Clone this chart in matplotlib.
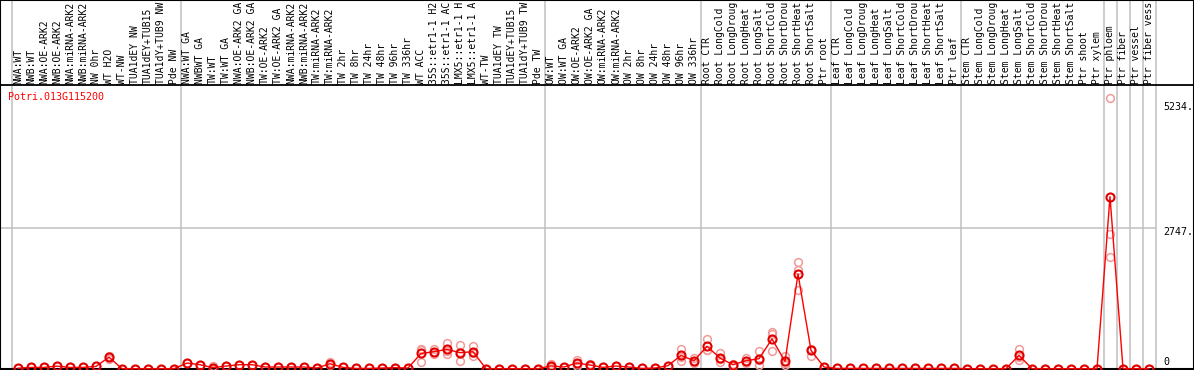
import numpy as np
import matplotlib.pyplot as plt

gene = "Potri.013G115200"

# sample names as far as they are readable in the header
samples = ["NWA:WT", "NWB:WT", "NWA:OE-ARK2", "NWB:OE-ARK2", "NWA:miRNA-ARK2",
           "NWB:miRNA-ARK2", "NW 0hr", "WT H2O", "WT-NW", "TUA1dEY NW",
           "TUA1dEY+TUB15", "TUA1dY+TUB9 NW", "Pde NW",
           "NWA:WT GA", "NWBWT GA", "TW:WT", "TW:WT GA", "NWA:OE-ARK2 GA",
           "NWB:OE-ARK2 GA", "TW:OE-ARK2", "TW:OE-ARK2 GA", "NWA:miRNA-ARK2",
           "NWB:miRNA-ARK2", "TW:miRNA-ARK2", "TW:miRNA-ARK2", "TW 2hr", "TW 8hr",
           "TW 24hr", "TW 48hr", "TW 96hr", "TW 336hr", "WT ACC",
           "35S::etr1-1 H2", "35S::etr1-1 AC", "LMX5::etr1-1 H",
           "LMX5::etr1-1 A", "WT-TW", "TUA1dEY TW", "TUA1dEY+TUB15",
           "TUA1dY+TUB9 TW", "Pde TW",
           "OW:WT", "OW:WT GA", "OW:OE-ARK2", "OW:OE-ARK2 GA", "OW:miRNA-ARK2",
           "OW:miRNA-ARK2", "OW 2hr", "OW 8hr", "OW 24hr", "OW 48hr", "OW 96hr",
           "OW 336hr",
           "Root CTR", "Root LongCold", "Root LongDroug", "Root LongHeat",
           "Root LongSalt", "Root ShortCold", "Root ShortDrou", "Root ShortHeat",
           "Root ShortSalt", "Ptr root",
           "Leaf CTR", "Leaf LongCold", "Leaf LongDroug", "Leaf LongHeat",
           "Leaf LongSalt", "Leaf ShortCold", "Leaf ShortDrou", "Leaf ShortHeat",
           "Leaf ShortSalt", "Ptr leaf",
           "Stem CTR", "Stem LongCold", "Stem LongDroug", "Stem LongHeat",
           "Stem LongSalt", "Stem ShortCold", "Stem ShortDrou", "Stem ShortHeat",
           "Stem ShortSalt", "Ptr shoot", "Ptr xylem",
           "Ptr phloem", "Ptr fiber", "Ptr vessel", "Ptr fiber vess"]

means = [10, 25, 25, 50, 25, 25, 45, 225, 0, 0, 0, 0, 0,
         110, 78, 20, 52, 78, 78, 33, 33, 33, 33, 13, 98, 26, 5, 5, 13, 20, 13,
         297, 332, 378, 313, 332, 0, 0, 0, 0, 0,
         55, 33, 111, 72, 26, 52, 33, 5, 13, 59, 260, 156,
         436, 208, 78, 156, 195, 580, 143, 1850, 358, 33,
         5, 5, 5, 5, 5, 5, 5, 5, 5, 5,
         0, 0, 0, 0, 261, 0, 0, 0, 0, 0, 0,
         3360, 0, 0, 0]

# replicate values where they differ visibly from the mean
reps = {7: [255, 225, 190], 15: [60, 0, 0], 24: [130, 98, 70],
        31: [380, 370, 140], 32: [380, 330, 285], 33: [510, 345, 280],
        34: [465, 325, 150], 35: [445, 305, 245],
        41: [95, 40, 30], 43: [175, 100, 60], 44: [95, 70, 50],
        51: [390, 230, 160], 52: [210, 150, 110],
        53: [580, 370, 360], 54: [300, 190, 135], 55: [100, 75, 60],
        56: [210, 150, 110], 57: [340, 170, 75], 58: [720, 680, 340],
        59: [255, 110, 65], 60: [2080, 1930, 1540], 61: [385, 360, 250],
        77: [380, 230, 170], 84: [5278, 2623, 2180]}

group_breaks = [-0.5, 12.5, 40.5, 52.5, 62.5, 72.5, 83.5, 84.5, 85.5, 86.5, 87.5]
grid_value = 2747
top_value = 5234

# pixel geometry: columns at 18 + 13*k px, zero at 368.7 px, 19.52 units per px
W, H = 1194, 370
x0, dx = 18.0, 13.0
y0, per_px = 368.7, 19.52
header_y = (y0 - 85) * per_px

fig = plt.figure(figsize=(W / 100, H / 100), dpi=100)
ax = fig.add_axes([0, 0, 1, 1])
ax.set_xlim(-x0 / dx, (W - x0) / dx)
ax.set_ylim((y0 - H) * per_px, y0 * per_px)
ax.set_xticks([])
ax.set_yticks([])
for s in ax.spines.values():
    s.set_color("black")
    s.set_linewidth(1.5)

for b in group_breaks:
    ax.axvline(b, color="#c0c0c0", lw=1.1, zorder=1)
ax.hlines(grid_value, ax.get_xlim()[0], group_breaks[-1], color="#c0c0c0", lw=1.1, zorder=1)
ax.axhline(header_y, color="black", lw=1.3, zorder=2)
ax.axhline(0, color="black", lw=1.5, zorder=2)

xs = np.arange(len(samples))
for i in xs:
    vals = reps.get(i, [means[i]])
    ax.plot([i] * len(vals), vals, "o", ms=5.6, mfc="none", mec="#f09a9a", mew=1.1,
            zorder=3, clip_on=False)
ax.plot(xs, means, "-", color="red", lw=1.0, zorder=4)
ax.plot(xs, means, "o", ms=5.8, mfc="none", mec="#e00000", mew=1.5, zorder=5, clip_on=False)

mono = "DejaVu Sans Mono"
for i, name in enumerate(samples):
    ax.text(i, (y0 - 84) * per_px, name, rotation=90, ha="center", va="bottom",
            fontsize=7.0, family=mono, color="black")

ax.text(-0.75, (y0 - 97) * per_px, gene, color="red", fontsize=7.2, family=mono,
        ha="left", va="center")

lx = (1163 - x0) / dx
ax.annotate("%d." % top_value, (lx, top_value), xytext=(0, -4.5), textcoords="offset points",
            fontsize=7.2, family=mono, ha="left", va="center")
ax.annotate("%d." % grid_value, (lx, grid_value), xytext=(0, -3), textcoords="offset points",
            fontsize=7.2, family=mono, ha="left", va="center")
ax.annotate("0", (lx, 0), xytext=(0, 4.8), textcoords="offset points",
            fontsize=7.2, family=mono, ha="left", va="center")

fig.savefig("out.png", dpi=100)
